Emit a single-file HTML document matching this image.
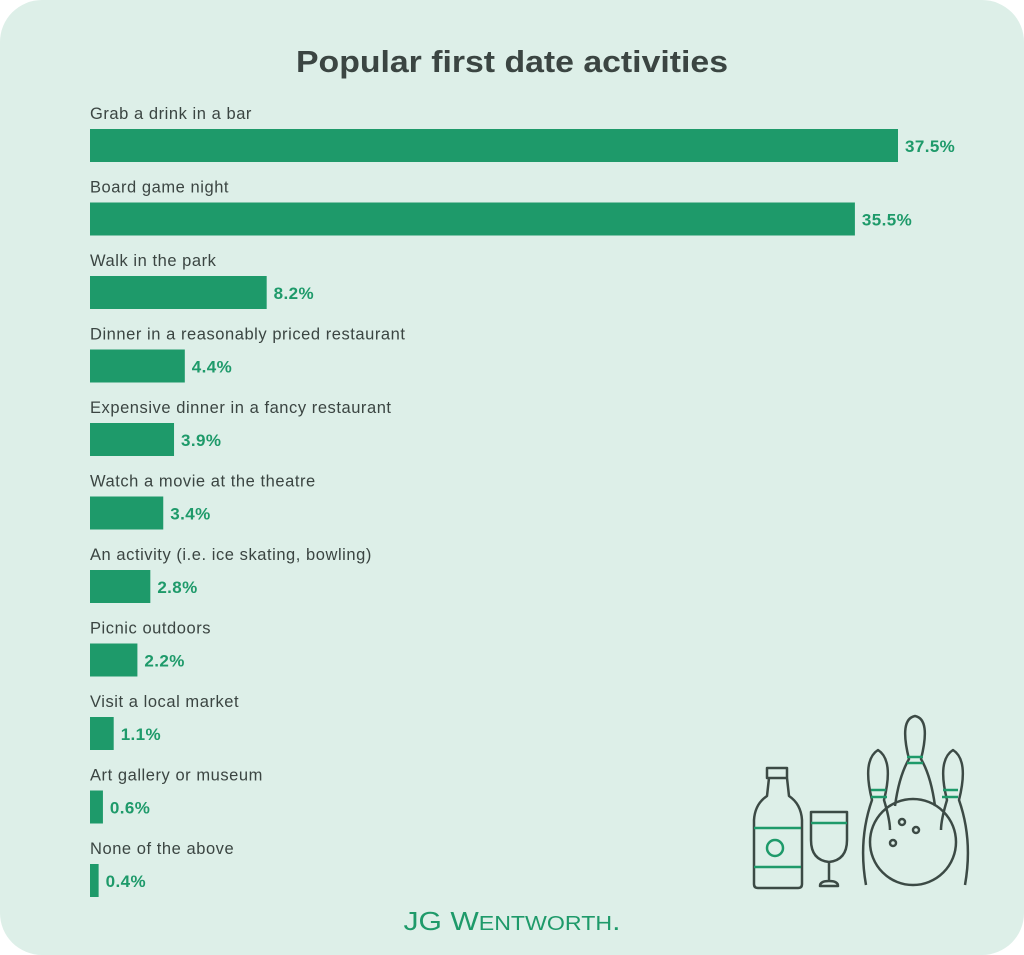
<!DOCTYPE html>
<html><head><meta charset="utf-8"><style>
html,body{margin:0;padding:0;background:#fff;}
svg{display:block;font-family:"Liberation Sans",sans-serif;}
</style></head><body>
<svg width="1024" height="955" viewBox="0 0 1024 955">
<rect x="0" y="0" width="1024" height="955" rx="42" fill="#ddefe8"/>
<text x="512" y="72" text-anchor="middle" font-size="31" font-weight="bold" fill="#3b4542" textLength="432" lengthAdjust="spacingAndGlyphs">Popular first date activities</text>
<g id="bars"></g>
<g fill="none" stroke="#3c4a45" stroke-width="2.5" stroke-linejoin="round">
  <path d="M767 768h20v10h-20z M769 778 l-2 18 q-12 8 -13 24 v64 q0 4 4 4 h40 q4 0 4 -4 v-64 q-1 -16 -13 -24 l-2 -18" />
  <circle cx="775" cy="848" r="8" stroke="#1e9a6a"/>
  <line x1="754" y1="828" x2="801" y2="828" stroke="#1e9a6a"/>
  <line x1="754" y1="867" x2="801" y2="867" stroke="#1e9a6a"/>
  <path d="M811 812h36v28q0 20 -18 22q-18 -2 -18 -22z M829 862v19 M820 886q0 -5 9 -5q9 0 9 5z"/>
  <line x1="811" y1="823" x2="847" y2="823" stroke="#1e9a6a"/>
  <path d="M866 885q-8 -45 6 -85q-10 -40 6 -50q16 10 6 50q6 20 6 30"/>
  <path d="M965 885q8 -45 -6 -85q10 -40 -6 -50q-16 10 -6 50q-6 20 -6 30"/>
  <path d="M895 806q4 -30 14 -47q-10 -40 6 -43q16 3 6 43q10 17 14 47"/>
  <circle cx="913" cy="842" r="43"/>
  <circle cx="902" cy="822" r="3"/><circle cx="916" cy="830" r="3"/><circle cx="893" cy="843" r="3"/>
  <line x1="871" y1="790" x2="886" y2="790" stroke="#1e9a6a"/><line x1="871" y1="797" x2="887" y2="797" stroke="#1e9a6a"/>
  <line x1="907" y1="757" x2="923" y2="757" stroke="#1e9a6a"/><line x1="907" y1="763" x2="923" y2="763" stroke="#1e9a6a"/>
  <line x1="943" y1="790" x2="958" y2="790" stroke="#1e9a6a"/><line x1="942" y1="797" x2="958" y2="797" stroke="#1e9a6a"/>
</g>
<text x="512" y="930" text-anchor="middle" font-family="Liberation Sans, sans-serif" font-size="26" fill="#1e9a6a" textLength="217" lengthAdjust="spacingAndGlyphs">JG W<tspan font-size="20">ENTWORTH</tspan>.</text>
</svg>
<script>
const categories = ["Grab a drink in a bar","Board game night","Walk in the park","Dinner in a reasonably priced restaurant","Expensive dinner in a fancy restaurant","Watch a movie at the theatre","An activity (i.e. ice skating, bowling)","Picnic outdoors","Visit a local market","Art gallery or museum","None of the above"];
const values = [37.5,35.5,8.2,4.4,3.9,3.4,2.8,2.2,1.1,0.6,0.4];
const valueLabels = ["37.5%","35.5%","8.2%","4.4%","3.9%","3.4%","2.8%","2.2%","1.1%","0.6%","0.4%"];
const NS = "http://www.w3.org/2000/svg";
const x0 = 90, pxPer = 808/37.5, top0 = 129, step = 73.5, bh = 33;
const xs = v => x0 + v*pxPer;
const ys = i => top0 + i*step;
const g = document.getElementById('bars');
categories.forEach((c,i)=>{
  const y = ys(i);
  const t = document.createElementNS(NS,'text');
  t.setAttribute('x', x0); t.setAttribute('y', y-10);
  t.setAttribute('font-size','16.5'); t.setAttribute('letter-spacing','0.55'); t.setAttribute('fill','#3b4542');
  t.textContent = c;
  
  
  g.appendChild(t);
  const r = document.createElementNS(NS,'rect');
  r.setAttribute('x', x0); r.setAttribute('y', y);
  r.setAttribute('width', xs(values[i]) - x0); r.setAttribute('height', bh);
  r.setAttribute('fill','#1e9a6a');
  
  
  g.appendChild(r);
  const v = document.createElementNS(NS,'text');
  v.setAttribute('x', xs(values[i]) + 7); v.setAttribute('y', y+23);
  v.setAttribute('font-size','17'); v.setAttribute('letter-spacing','0.4'); v.setAttribute('font-weight','bold'); v.setAttribute('fill','#1e9a6a');
  v.textContent = valueLabels[i];
  
  
  g.appendChild(v);
});
</script>
</body></html>
